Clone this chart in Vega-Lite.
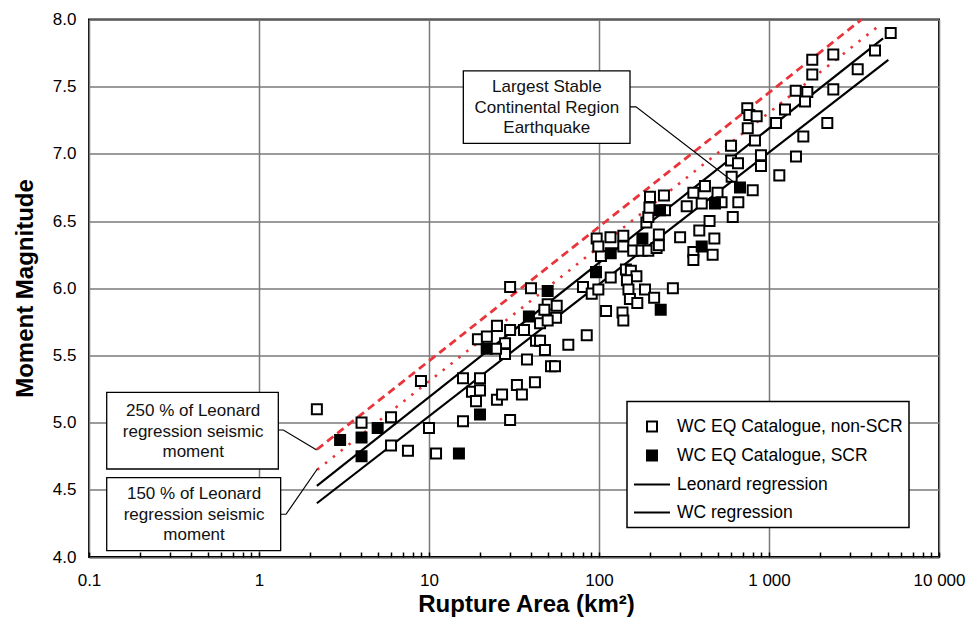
{
  "$schema": "https://vega.github.io/schema/vega-lite/v6.json",
  "width": 850,
  "height": 537.5,
  "autosize": "none",
  "padding": {"left": 89, "top": 19.5, "right": 29, "bottom": 63},
  "background": "white",
  "config": {
    "font": "Liberation Sans",
    "view": {"stroke": "black", "strokeWidth": 2},
    "legend": {"strokeWidth": 1.5}
  },
  "datasets": {
    "pts": [
      {"series": "WC EQ Catalogue, non-SCR", "area": 2.19, "mw": 5.10},
      {"series": "WC EQ Catalogue, non-SCR", "area": 4.01, "mw": 5.00},
      {"series": "WC EQ Catalogue, non-SCR", "area": 5.98, "mw": 5.04},
      {"series": "WC EQ Catalogue, non-SCR", "area": 5.98, "mw": 4.83},
      {"series": "WC EQ Catalogue, non-SCR", "area": 7.52, "mw": 4.79},
      {"series": "WC EQ Catalogue, non-SCR", "area": 8.97, "mw": 5.31},
      {"series": "WC EQ Catalogue, non-SCR", "area": 10.0, "mw": 4.96},
      {"series": "WC EQ Catalogue, non-SCR", "area": 11.0, "mw": 4.77},
      {"series": "WC EQ Catalogue, non-SCR", "area": 15.85, "mw": 5.01},
      {"series": "WC EQ Catalogue, non-SCR", "area": 15.85, "mw": 5.33},
      {"series": "WC EQ Catalogue, non-SCR", "area": 19.95, "mw": 5.33},
      {"series": "WC EQ Catalogue, non-SCR", "area": 17.9, "mw": 5.23},
      {"series": "WC EQ Catalogue, non-SCR", "area": 19.95, "mw": 5.24},
      {"series": "WC EQ Catalogue, non-SCR", "area": 18.9, "mw": 5.16},
      {"series": "WC EQ Catalogue, non-SCR", "area": 25.1, "mw": 5.17},
      {"series": "WC EQ Catalogue, non-SCR", "area": 26.9, "mw": 5.21},
      {"series": "WC EQ Catalogue, non-SCR", "area": 32.9, "mw": 5.28},
      {"series": "WC EQ Catalogue, non-SCR", "area": 42.0, "mw": 5.30},
      {"series": "WC EQ Catalogue, non-SCR", "area": 35.2, "mw": 5.21},
      {"series": "WC EQ Catalogue, non-SCR", "area": 30.0, "mw": 5.02},
      {"series": "WC EQ Catalogue, non-SCR", "area": 19.4, "mw": 5.62},
      {"series": "WC EQ Catalogue, non-SCR", "area": 21.9, "mw": 5.64},
      {"series": "WC EQ Catalogue, non-SCR", "area": 25.1, "mw": 5.72},
      {"series": "WC EQ Catalogue, non-SCR", "area": 28.0, "mw": 5.59},
      {"series": "WC EQ Catalogue, non-SCR", "area": 28.0, "mw": 5.51},
      {"series": "WC EQ Catalogue, non-SCR", "area": 24.8, "mw": 5.55},
      {"series": "WC EQ Catalogue, non-SCR", "area": 30.0, "mw": 5.69},
      {"series": "WC EQ Catalogue, non-SCR", "area": 36.2, "mw": 5.69},
      {"series": "WC EQ Catalogue, non-SCR", "area": 37.7, "mw": 5.47},
      {"series": "WC EQ Catalogue, non-SCR", "area": 30.0, "mw": 6.01},
      {"series": "WC EQ Catalogue, non-SCR", "area": 39.8, "mw": 6.00},
      {"series": "WC EQ Catalogue, non-SCR", "area": 42.6, "mw": 5.61},
      {"series": "WC EQ Catalogue, non-SCR", "area": 45.0, "mw": 5.61},
      {"series": "WC EQ Catalogue, non-SCR", "area": 45.0, "mw": 5.74},
      {"series": "WC EQ Catalogue, non-SCR", "area": 48.1, "mw": 5.54},
      {"series": "WC EQ Catalogue, non-SCR", "area": 49.9, "mw": 5.88},
      {"series": "WC EQ Catalogue, non-SCR", "area": 56.4, "mw": 5.87},
      {"series": "WC EQ Catalogue, non-SCR", "area": 47.7, "mw": 5.84},
      {"series": "WC EQ Catalogue, non-SCR", "area": 55.9, "mw": 5.78},
      {"series": "WC EQ Catalogue, non-SCR", "area": 49.9, "mw": 5.76},
      {"series": "WC EQ Catalogue, non-SCR", "area": 66.0, "mw": 5.58},
      {"series": "WC EQ Catalogue, non-SCR", "area": 84.7, "mw": 5.65},
      {"series": "WC EQ Catalogue, non-SCR", "area": 52.2, "mw": 5.42},
      {"series": "WC EQ Catalogue, non-SCR", "area": 55.1, "mw": 5.42},
      {"series": "WC EQ Catalogue, non-SCR", "area": 80.5, "mw": 6.01},
      {"series": "WC EQ Catalogue, non-SCR", "area": 90.6, "mw": 5.96},
      {"series": "WC EQ Catalogue, non-SCR", "area": 99.1, "mw": 5.99},
      {"series": "WC EQ Catalogue, non-SCR", "area": 102.7, "mw": 6.24},
      {"series": "WC EQ Catalogue, non-SCR", "area": 117.2, "mw": 6.08},
      {"series": "WC EQ Catalogue, non-SCR", "area": 110, "mw": 5.83},
      {"series": "WC EQ Catalogue, non-SCR", "area": 137.5, "mw": 5.82},
      {"series": "WC EQ Catalogue, non-SCR", "area": 139, "mw": 5.76},
      {"series": "WC EQ Catalogue, non-SCR", "area": 96.9, "mw": 6.37},
      {"series": "WC EQ Catalogue, non-SCR", "area": 116.8, "mw": 6.38},
      {"series": "WC EQ Catalogue, non-SCR", "area": 139, "mw": 6.39},
      {"series": "WC EQ Catalogue, non-SCR", "area": 99.1, "mw": 6.31},
      {"series": "WC EQ Catalogue, non-SCR", "area": 139, "mw": 6.31},
      {"series": "WC EQ Catalogue, non-SCR", "area": 159, "mw": 6.28},
      {"series": "WC EQ Catalogue, non-SCR", "area": 178, "mw": 6.28},
      {"series": "WC EQ Catalogue, non-SCR", "area": 195, "mw": 6.28},
      {"series": "WC EQ Catalogue, non-SCR", "area": 218, "mw": 6.30},
      {"series": "WC EQ Catalogue, non-SCR", "area": 225, "mw": 6.32},
      {"series": "WC EQ Catalogue, non-SCR", "area": 225, "mw": 6.40},
      {"series": "WC EQ Catalogue, non-SCR", "area": 190, "mw": 6.49},
      {"series": "WC EQ Catalogue, non-SCR", "area": 195, "mw": 6.53},
      {"series": "WC EQ Catalogue, non-SCR", "area": 199.5, "mw": 6.68},
      {"series": "WC EQ Catalogue, non-SCR", "area": 241, "mw": 6.69},
      {"series": "WC EQ Catalogue, non-SCR", "area": 198, "mw": 6.60},
      {"series": "WC EQ Catalogue, non-SCR", "area": 244.5, "mw": 6.58},
      {"series": "WC EQ Catalogue, non-SCR", "area": 300, "mw": 6.38},
      {"series": "WC EQ Catalogue, non-SCR", "area": 144, "mw": 6.14},
      {"series": "WC EQ Catalogue, non-SCR", "area": 154, "mw": 6.13},
      {"series": "WC EQ Catalogue, non-SCR", "area": 166, "mw": 6.09},
      {"series": "WC EQ Catalogue, non-SCR", "area": 146, "mw": 6.06},
      {"series": "WC EQ Catalogue, non-SCR", "area": 149, "mw": 5.99},
      {"series": "WC EQ Catalogue, non-SCR", "area": 186.5, "mw": 5.99},
      {"series": "WC EQ Catalogue, non-SCR", "area": 272, "mw": 6.00},
      {"series": "WC EQ Catalogue, non-SCR", "area": 152, "mw": 5.92},
      {"series": "WC EQ Catalogue, non-SCR", "area": 211, "mw": 5.93},
      {"series": "WC EQ Catalogue, non-SCR", "area": 168, "mw": 5.89},
      {"series": "WC EQ Catalogue, non-SCR", "area": 359, "mw": 6.71},
      {"series": "WC EQ Catalogue, non-SCR", "area": 420, "mw": 6.76},
      {"series": "WC EQ Catalogue, non-SCR", "area": 603, "mw": 6.83},
      {"series": "WC EQ Catalogue, non-SCR", "area": 498, "mw": 6.71},
      {"series": "WC EQ Catalogue, non-SCR", "area": 402, "mw": 6.63},
      {"series": "WC EQ Catalogue, non-SCR", "area": 328, "mw": 6.61},
      {"series": "WC EQ Catalogue, non-SCR", "area": 526, "mw": 6.64},
      {"series": "WC EQ Catalogue, non-SCR", "area": 660, "mw": 6.64},
      {"series": "WC EQ Catalogue, non-SCR", "area": 612, "mw": 6.53},
      {"series": "WC EQ Catalogue, non-SCR", "area": 447, "mw": 6.50},
      {"series": "WC EQ Catalogue, non-SCR", "area": 389, "mw": 6.43},
      {"series": "WC EQ Catalogue, non-SCR", "area": 477, "mw": 6.37},
      {"series": "WC EQ Catalogue, non-SCR", "area": 359, "mw": 6.27},
      {"series": "WC EQ Catalogue, non-SCR", "area": 359, "mw": 6.21},
      {"series": "WC EQ Catalogue, non-SCR", "area": 466, "mw": 6.25},
      {"series": "WC EQ Catalogue, non-SCR", "area": 802, "mw": 6.73},
      {"series": "WC EQ Catalogue, non-SCR", "area": 598, "mw": 7.06},
      {"series": "WC EQ Catalogue, non-SCR", "area": 598, "mw": 6.95},
      {"series": "WC EQ Catalogue, non-SCR", "area": 657, "mw": 6.93},
      {"series": "WC EQ Catalogue, non-SCR", "area": 827, "mw": 7.10},
      {"series": "WC EQ Catalogue, non-SCR", "area": 897, "mw": 6.99},
      {"series": "WC EQ Catalogue, non-SCR", "area": 897, "mw": 6.91},
      {"series": "WC EQ Catalogue, non-SCR", "area": 1150, "mw": 6.84},
      {"series": "WC EQ Catalogue, non-SCR", "area": 1441, "mw": 6.98},
      {"series": "WC EQ Catalogue, non-SCR", "area": 745, "mw": 7.34},
      {"series": "WC EQ Catalogue, non-SCR", "area": 766, "mw": 7.29},
      {"series": "WC EQ Catalogue, non-SCR", "area": 846, "mw": 7.28},
      {"series": "WC EQ Catalogue, non-SCR", "area": 750, "mw": 7.19},
      {"series": "WC EQ Catalogue, non-SCR", "area": 1100, "mw": 7.23},
      {"series": "WC EQ Catalogue, non-SCR", "area": 1242, "mw": 7.33},
      {"series": "WC EQ Catalogue, non-SCR", "area": 1436, "mw": 7.47},
      {"series": "WC EQ Catalogue, non-SCR", "area": 1680, "mw": 7.46},
      {"series": "WC EQ Catalogue, non-SCR", "area": 1629, "mw": 7.39},
      {"series": "WC EQ Catalogue, non-SCR", "area": 1592, "mw": 7.13},
      {"series": "WC EQ Catalogue, non-SCR", "area": 2203, "mw": 7.23},
      {"series": "WC EQ Catalogue, non-SCR", "area": 2389, "mw": 7.48},
      {"series": "WC EQ Catalogue, non-SCR", "area": 1797, "mw": 7.59},
      {"series": "WC EQ Catalogue, non-SCR", "area": 1797, "mw": 7.70},
      {"series": "WC EQ Catalogue, non-SCR", "area": 2389, "mw": 7.74},
      {"series": "WC EQ Catalogue, non-SCR", "area": 3325, "mw": 7.63},
      {"series": "WC EQ Catalogue, non-SCR", "area": 4203, "mw": 7.77},
      {"series": "WC EQ Catalogue, non-SCR", "area": 5199, "mw": 7.90},
      {"series": "WC EQ Catalogue, SCR", "area": 3.0, "mw": 4.87},
      {"series": "WC EQ Catalogue, SCR", "area": 4.01, "mw": 4.89},
      {"series": "WC EQ Catalogue, SCR", "area": 4.99, "mw": 4.96},
      {"series": "WC EQ Catalogue, SCR", "area": 4.01, "mw": 4.75},
      {"series": "WC EQ Catalogue, SCR", "area": 15.0, "mw": 4.77},
      {"series": "WC EQ Catalogue, SCR", "area": 19.95, "mw": 5.06},
      {"series": "WC EQ Catalogue, SCR", "area": 21.85, "mw": 5.55},
      {"series": "WC EQ Catalogue, SCR", "area": 38.7, "mw": 5.79},
      {"series": "WC EQ Catalogue, SCR", "area": 49.9, "mw": 5.98},
      {"series": "WC EQ Catalogue, SCR", "area": 96.0, "mw": 6.12},
      {"series": "WC EQ Catalogue, SCR", "area": 117.2, "mw": 6.26},
      {"series": "WC EQ Catalogue, SCR", "area": 180, "mw": 6.37},
      {"series": "WC EQ Catalogue, SCR", "area": 228.5, "mw": 6.58},
      {"series": "WC EQ Catalogue, SCR", "area": 230.7, "mw": 5.84},
      {"series": "WC EQ Catalogue, SCR", "area": 402, "mw": 6.31},
      {"series": "WC EQ Catalogue, SCR", "area": 481, "mw": 6.63},
      {"series": "WC EQ Catalogue, SCR", "area": 675, "mw": 6.75}
    ],
    "lines": [
      {"series": "Leonard regression", "area": 2.19, "mw": 4.53},
      {"series": "Leonard regression", "area": 4690, "mw": 7.86},
      {"series": "WC regression", "area": 2.19, "mw": 4.40},
      {"series": "WC regression", "area": 5035, "mw": 7.70},
      {"series": "250 % of Leonard regression seismic moment", "area": 2.19, "mw": 4.80},
      {"series": "250 % of Leonard regression seismic moment", "area": 3508, "mw": 8.0},
      {"series": "150 % of Leonard regression seismic moment", "area": 2.2, "mw": 4.65},
      {"series": "150 % of Leonard regression seismic moment", "area": 4497, "mw": 7.96}
    ],
    "boxes": [
      {"area": 15.92, "area2": 152.2, "mw": 7.078, "mw2": 7.618},
      {"area": 0.1271, "area2": 1.299, "mw": 4.655, "mw2": 5.225},
      {"area": 0.1271, "area2": 1.341, "mw": 4.047, "mw2": 4.590}
    ],
    "leaders": [
      {"id": 1, "ord": 1, "area": 152.2, "mw": 7.350},
      {"id": 1, "ord": 2, "area": 165.1, "mw": 7.350},
      {"id": 1, "ord": 3, "area": 616.6, "mw": 6.792},
      {"id": 2, "ord": 1, "area": 1.299, "mw": 4.945},
      {"id": 2, "ord": 2, "area": 1.39, "mw": 4.945},
      {"id": 2, "ord": 3, "area": 2.185, "mw": 4.796},
      {"id": 3, "ord": 1, "area": 1.341, "mw": 4.318},
      {"id": 3, "ord": 2, "area": 1.442, "mw": 4.318},
      {"id": 3, "ord": 3, "area": 2.203, "mw": 4.655}
    ],
    "labels": [
      {"area": 49.3, "mw": 7.497, "text": "Largest Stable"},
      {"area": 49.3, "mw": 7.345, "text": "Continental Region"},
      {"area": 49.3, "mw": 7.192, "text": "Earthquake"},
      {"area": 0.41, "mw": 5.086, "text": "250 % of Leonard"},
      {"area": 0.41, "mw": 4.932, "text": "regression seismic"},
      {"area": 0.41, "mw": 4.779, "text": "moment"},
      {"area": 0.415, "mw": 4.469, "text": "150 % of Leonard"},
      {"area": 0.415, "mw": 4.315, "text": "regression seismic"},
      {"area": 0.415, "mw": 4.161, "text": "moment"}
    ]
  },
  "encoding": {
    "x": {
      "field": "area",
      "type": "quantitative",
      "scale": {"type": "log", "domain": [0.1, 10000], "nice": false},
      "axis": {
        "title": "Rupture Area (km²)",
        "titleFont": "Liberation Sans",
        "titleFontSize": 24,
        "titleFontWeight": "bold",
        "titleColor": "black",
        "titleX": 437,
        "titleY": 54,
        "titleAlign": "center",
        "titleBaseline": "alphabetic",
        "values": [0.1, 0.2, 0.3, 0.4, 0.5, 0.6, 0.7, 0.8, 0.9, 1, 2, 3, 4, 5, 6, 7, 8, 9, 10, 20, 30, 40, 50, 60, 70, 80, 90, 100, 200, 300, 400, 500, 600, 700, 800, 900, 1000, 2000, 3000, 4000, 5000, 6000, 7000, 8000, 9000, 10000],
        "labelExpr": "datum.value == 0.1 ? '0.1' : datum.value == 1 ? '1' : datum.value == 10 ? '10' : datum.value == 100 ? '100' : datum.value == 1000 ? '1 000' : datum.value == 10000 ? '10 000' : ''",
        "labelFont": "Liberation Sans",
        "labelFontSize": 17,
        "labelColor": "black",
        "labelPadding": 20,
        "labelFlush": false,
        "labelOverlap": false,
        "labelBound": false,
        "grid": true,
        "gridColor": "#7a7a7a",
        "gridWidth": 1.5,
        "gridOpacity": {"condition": {"test": "datum.value == 0.1 || datum.value == 1 || datum.value == 10 || datum.value == 100 || datum.value == 1000 || datum.value == 10000", "value": 1}, "value": 0},
        "ticks": true,
        "tickSize": -5,
        "tickColor": "black",
        "tickWidth": 1.5,
        "domain": false
      }
    },
    "y": {
      "field": "mw",
      "type": "quantitative",
      "scale": {"domain": [4, 8], "nice": false, "zero": false},
      "axis": {
        "title": "Moment Magnitude",
        "titleFont": "Liberation Sans",
        "titleFontSize": 24,
        "titleFontWeight": "bold",
        "titleColor": "black",
        "titleX": -57,
        "titleY": 268.5,
        "titleAngle": -90,
        "titleAlign": "center",
        "titleBaseline": "alphabetic",
        "values": [4, 4.5, 5, 5.5, 6, 6.5, 7, 7.5, 8],
        "format": ".1f",
        "labelFont": "Liberation Sans",
        "labelFontSize": 17,
        "labelColor": "black",
        "labelPadding": 13,
        "ticks": false,
        "domain": false,
        "grid": true,
        "gridColor": "#7a7a7a",
        "gridWidth": 1.5
      }
    }
  },
  "layer": [
    {
      "data": {"name": "lines"},
      "transform": [{"filter": "datum.series == 'Leonard regression' || datum.series == 'WC regression'"}],
      "mark": {"type": "line", "color": "black", "strokeWidth": 2.2},
      "encoding": {"detail": {"field": "series", "type": "nominal"}}
    },
    {
      "data": {"name": "lines"},
      "transform": [{"filter": "datum.series == '250 % of Leonard regression seismic moment'"}],
      "mark": {"type": "line", "color": "#e8343a", "strokeWidth": 2.8, "strokeDash": [8, 5]},
      "encoding": {"detail": {"field": "series", "type": "nominal"}}
    },
    {
      "data": {"name": "lines"},
      "transform": [{"filter": "datum.series == '150 % of Leonard regression seismic moment'"}],
      "mark": {"type": "line", "color": "#e8343a", "strokeWidth": 2.6, "strokeDash": [2.5, 7.5]},
      "encoding": {"detail": {"field": "series", "type": "nominal"}}
    },
    {
      "data": {"name": "pts"},
      "mark": {"type": "point", "filled": true, "strokeWidth": 2, "opacity": 1, "size": 1296},
      "encoding": {
        "shape": {
          "field": "series", "type": "nominal",
          "scale": {"domain": ["WC EQ Catalogue, non-SCR", "WC EQ Catalogue, SCR", "Leonard regression", "WC regression"], "range": ["M-0.278,-0.278H0.278V0.278H-0.278Z", "M-0.278,-0.278H0.278V0.278H-0.278Z", "M-1,0H1", "M-1,0H1"]},
          "legend": {"title": null, "orient": "none", "legendX": 538, "legendY": 382, "padding": 6, "fillColor": "white", "strokeColor": "black", "labelFont": "Liberation Sans", "labelFontSize": 17.5, "labelColor": "black", "labelOffset": 6, "labelLimit": 400, "rowPadding": -8, "symbolSize": 1296, "symbolStrokeWidth": 2}
        },
        "fill": {
          "field": "series", "type": "nominal",
          "scale": {"domain": ["WC EQ Catalogue, non-SCR", "WC EQ Catalogue, SCR", "Leonard regression", "WC regression"], "range": ["white", "black", "black", "black"]},
          "legend": {"title": null, "orient": "none", "legendX": 538, "legendY": 382, "padding": 6, "fillColor": "white", "strokeColor": "black", "labelFont": "Liberation Sans", "labelFontSize": 17.5, "labelColor": "black", "labelOffset": 6, "labelLimit": 400, "rowPadding": -8, "symbolSize": 1296, "symbolStrokeWidth": 2}
        },
        "stroke": {
          "field": "series", "type": "nominal",
          "scale": {"domain": ["WC EQ Catalogue, non-SCR", "WC EQ Catalogue, SCR", "Leonard regression", "WC regression"], "range": ["black", "black", "black", "black"]},
          "legend": {"title": null, "orient": "none", "legendX": 538, "legendY": 382, "padding": 6, "fillColor": "white", "strokeColor": "black", "labelFont": "Liberation Sans", "labelFontSize": 17.5, "labelColor": "black", "labelOffset": 6, "labelLimit": 400, "rowPadding": -8, "symbolSize": 1296, "symbolStrokeWidth": 2}
        }
      }
    },
    {
      "data": {"name": "boxes"},
      "mark": {"type": "rect", "fill": "white", "stroke": "black", "strokeWidth": 1.3},
      "encoding": {
        "x2": {"field": "area2"},
        "y2": {"field": "mw2"}
      }
    },
    {
      "data": {"name": "leaders"},
      "mark": {"type": "line", "color": "black", "strokeWidth": 1.2},
      "encoding": {
        "detail": {"field": "id", "type": "nominal"},
        "order": {"field": "ord", "type": "quantitative"}
      }
    },
    {
      "data": {"name": "labels"},
      "mark": {"type": "text", "font": "Liberation Sans", "fontSize": 17, "color": "#111111", "align": "center", "baseline": "middle"},
      "encoding": {"text": {"field": "text", "type": "nominal"}}
    }
  ]
}
